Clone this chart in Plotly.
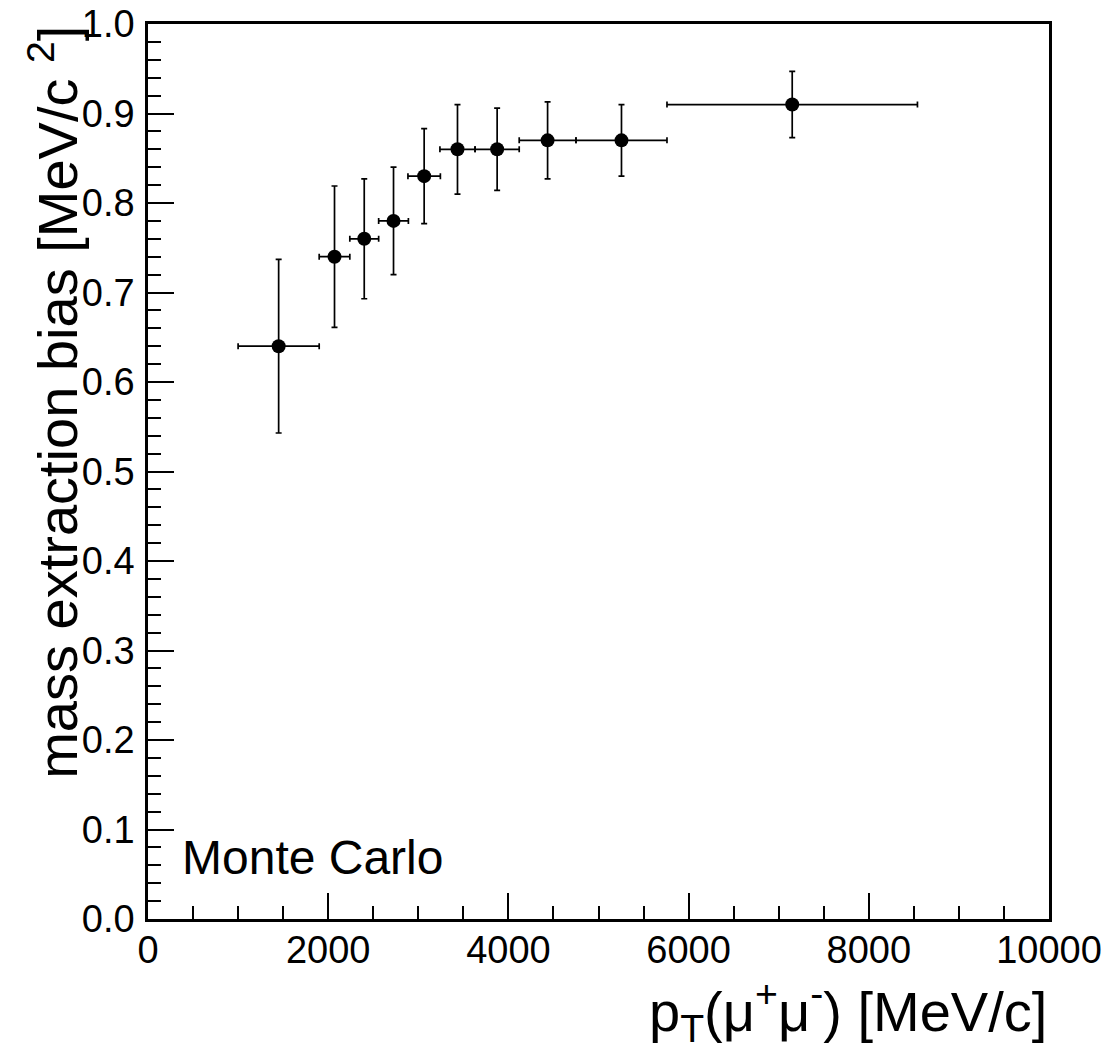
import plotly.graph_objects as go

# Data
pt = [1450, 2070, 2400, 2725, 3065, 3435, 3875, 4435, 5255, 7150]
pt_err = [450, 170, 160, 165, 180, 195, 245, 315, 505, 1390]
bias = [0.64, 0.74, 0.76, 0.78, 0.83, 0.86, 0.86, 0.87, 0.87, 0.91]
bias_err = [0.097, 0.079, 0.067, 0.060, 0.053, 0.050, 0.046, 0.043, 0.040, 0.037]

x_ticks = [0, 2000, 4000, 6000, 8000, 10000]
y_ticks = [0.0, 0.1, 0.2, 0.3, 0.4, 0.5, 0.6, 0.7, 0.8, 0.9, 1.0]

FONT = "Liberation Sans, Arial, Helvetica, sans-serif"

fig = go.Figure()
fig.add_trace(go.Scatter(
    x=pt, y=bias, mode="markers",
    marker=dict(color="black", size=14, symbol="circle"),
    error_x=dict(type="data", array=pt_err, color="black", thickness=1.7, width=3),
    error_y=dict(type="data", array=bias_err, color="black", thickness=1.7, width=3),
    showlegend=False,
))

axis_common = dict(
    showgrid=False, zeroline=False, showline=True, linecolor="black",
    linewidth=2.5, mirror=True, ticks="inside", tickcolor="black",
    tickwidth=1.5, ticklen=26, ticklabeloverflow="allow",
    tickfont=dict(family=FONT, size=38, color="black"),
)

fig.update_xaxes(
    range=[0, 10000], tickvals=x_ticks, ticktext=[str(v) for v in x_ticks],
    minor=dict(dtick=500, ticklen=13, ticks="inside", tickcolor="black", tickwidth=1.5),
    ticklabelstandoff=-4,
    **axis_common,
)
fig.update_yaxes(
    range=[0, 1.0], tickvals=y_ticks, ticktext=[f"{v:.1f}" for v in y_ticks],
    minor=dict(dtick=0.02, ticklen=13, ticks="inside", tickcolor="black", tickwidth=1.5),
    ticklabelstandoff=3,
    **axis_common,
)

fig.add_annotation(
    text="p<sub>T</sub>(\u03bc<sup>+</sup>\u03bc<sup>-</sup>) [MeV/c]",
    xref="paper", yref="paper", x=1.0, y=-0.103, xanchor="right", yanchor="middle",
    showarrow=False, font=dict(family=FONT, size=56, color="black"),
)
fig.add_annotation(
    text="mass extraction bias [MeV/c <sup>2</sup>]",
    xref="paper", yref="paper", x=-0.104, y=1.0, xanchor="center", yanchor="top",
    textangle=-90, showarrow=False, font=dict(family=FONT, size=56, color="black"),
)
fig.add_annotation(
    text="Monte Carlo",
    xref="paper", yref="paper", x=0.036, y=0.069, xanchor="left", yanchor="middle",
    showarrow=False, font=dict(family=FONT, size=48, color="black"),
)

fig.update_layout(
    width=1110, height=1049,
    margin=dict(l=148, r=61, t=24, b=130, autoexpand=False),
    paper_bgcolor="white", plot_bgcolor="white",
)

fig.write_html("out.html", config={"displayModeBar": False},
               post_script="document.body.style.margin='0';")
